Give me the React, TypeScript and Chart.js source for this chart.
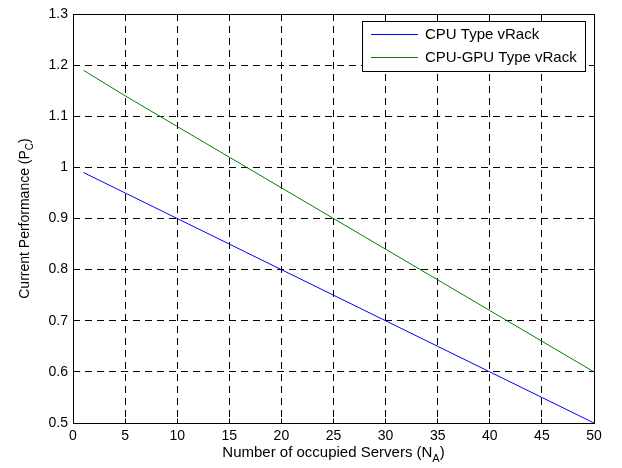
import React, { useEffect, useRef } from 'react';
import { Chart, registerables } from 'chart.js';

Chart.register(...registerables);

const servers = [1, 5, 10, 15, 20, 25, 30, 35, 40, 45, 50];
const cpuPerf = [0.99, 0.95, 0.9, 0.85, 0.8, 0.75, 0.7, 0.65, 0.6, 0.55, 0.5];
const gpuPerf = [1.19, 1.14, 1.08, 1.02, 0.96, 0.9, 0.84, 0.78, 0.72, 0.66, 0.6];
const seriesLabels = ['CPU Type vRack', 'CPU-GPU Type vRack'];
const seriesColors = ['#0000ff', '#008000'];
const xTickValues = [0, 5, 10, 15, 20, 25, 30, 35, 40, 45, 50];
const yTickValues = [0.5, 0.6, 0.7, 0.8, 0.9, 1.0, 1.1, 1.2, 1.3];
const xTitle = ['Number of occupied Servers (N', 'A', ')'];
const yTitle = ['Current Performance (P', 'C', ')'];

const FONT = '"Liberation Sans", Arial, Helvetica, sans-serif';
const TICK_SIZE = 14;
const X_TITLE_SIZE = 15;
const Y_TITLE_SIZE = 14;
const LEGEND_SIZE = 15;

const align = (p: number) => Math.round(p - 0.5) + 0.5;

function drawSubText(ctx: CanvasRenderingContext2D, parts: string[], cx: number, cy: number, size: number) {
  const mainFont = `${size}px ${FONT}`;
  const subFont = `${Math.round(size * 0.72)}px ${FONT}`;
  ctx.font = mainFont;
  const w0 = ctx.measureText(parts[0]).width;
  const w2 = ctx.measureText(parts[2]).width;
  ctx.font = subFont;
  const w1 = ctx.measureText(parts[1]).width;
  const total = w0 + w1 + w2;
  let x = cx - total / 2;
  ctx.textAlign = 'left';
  ctx.textBaseline = 'middle';
  ctx.fillStyle = '#000';
  ctx.font = mainFont;
  ctx.fillText(parts[0], x, cy);
  x += w0;
  ctx.font = subFont;
  ctx.fillText(parts[1], x, cy + size * 0.38);
  x += w1;
  ctx.font = mainFont;
  ctx.fillText(parts[2], x, cy);
}

const decorPlugin = {
  id: 'decor',
  afterDraw(chart: any) {
    const { ctx, chartArea: a, scales } = chart;
    const L = align(a.left), R = align(a.right), T = align(a.top), B = align(a.bottom);
    ctx.save();
    ctx.setLineDash([]);
    ctx.strokeStyle = '#000';
    ctx.lineWidth = 1;
    // inner ticks
    const tl = 5;
    ctx.beginPath();
    xTickValues.forEach((v) => {
      const px = align(scales.x.getPixelForValue(v));
      ctx.moveTo(px, B); ctx.lineTo(px, B - tl);
      ctx.moveTo(px, T); ctx.lineTo(px, T + tl);
    });
    yTickValues.forEach((v) => {
      const py = align(scales.y.getPixelForValue(v));
      ctx.moveTo(L, py); ctx.lineTo(L + tl, py);
      ctx.moveTo(R, py); ctx.lineTo(R - tl, py);
    });
    ctx.stroke();
    // box
    ctx.strokeRect(L, T, R - L, B - T);

    // legend
    ctx.font = `${LEGEND_SIZE}px ${FONT}`;
    const tw = Math.max(...seriesLabels.map((s) => ctx.measureText(s).width));
    const lx = 362.5, ly = 21.5;
    const lineX0 = 371, lineX1 = 418, textX = 425;
    const lw = Math.round(textX - lx + tw + 9);
    const lh = 50;
    ctx.fillStyle = '#fff';
    ctx.fillRect(lx, ly, lw, lh);
    ctx.strokeStyle = '#000';
    ctx.strokeRect(lx, ly, lw, lh);
    seriesLabels.forEach((s, i) => {
      const y = 34.5 + i * 23;
      ctx.strokeStyle = seriesColors[i];
      ctx.beginPath();
      ctx.moveTo(lineX0, y);
      ctx.lineTo(lineX1, y);
      ctx.stroke();
      ctx.fillStyle = '#000';
      ctx.textAlign = 'left';
      ctx.textBaseline = 'middle';
      ctx.fillText(s, textX, y);
    });

    // axis titles
    drawSubText(ctx, xTitle, (a.left + a.right) / 2, 453, X_TITLE_SIZE);
    ctx.save();
    ctx.translate(25, (a.top + a.bottom) / 2);
    ctx.rotate(-Math.PI / 2);
    drawSubText(ctx, yTitle, 0, 0, Y_TITLE_SIZE);
    ctx.restore();
    ctx.restore();
  },
};

export default function App() {
  const ref = useRef<HTMLCanvasElement>(null);
  useEffect(() => {
    document.body.style.margin = '0';
    if (!ref.current) return;
    Chart.defaults.font.family = FONT;
    const chart = new Chart(ref.current, {
      type: 'line',
      data: {
        datasets: [
          {
            label: seriesLabels[0],
            data: servers.map((x, i) => ({ x, y: cpuPerf[i] })),
            borderColor: seriesColors[0],
            borderWidth: 1,
            pointRadius: 0,
            tension: 0,
            fill: false,
          },
          {
            label: seriesLabels[1],
            data: servers.map((x, i) => ({ x, y: gpuPerf[i] })),
            borderColor: seriesColors[1],
            borderWidth: 1,
            pointRadius: 0,
            tension: 0,
            fill: false,
          },
        ],
      },
      options: {
        animation: false,
        responsive: false,
        events: [],
        layout: { padding: { left: 0, top: 14, right: 28, bottom: 0 } },
        plugins: { legend: { display: false }, tooltip: { enabled: false }, title: { display: false } },
        scales: {
          x: {
            type: 'linear',
            min: 0,
            max: 50,
            afterBuildTicks: (s: any) => { s.ticks = xTickValues.map((v) => ({ value: v })); },
            afterFit: (s: any) => { s.height = 45; },
            ticks: { color: '#000', font: { size: TICK_SIZE }, padding: 5, maxRotation: 0, autoSkip: false },
            grid: { color: '#000', lineWidth: 1, drawTicks: false, tickLength: 0 },
            border: { display: false, dash: [7, 5] },
          },
          y: {
            type: 'linear',
            min: 0.5,
            max: 1.3,
            afterBuildTicks: (s: any) => { s.ticks = yTickValues.map((v) => ({ value: v })); },
            afterFit: (s: any) => { s.width = 73; },
            ticks: {
              color: '#000',
              font: { size: TICK_SIZE },
              padding: 5,
              autoSkip: false,
              callback: (v: any) => String(Number(Number(v).toFixed(1))),
            },
            grid: { color: '#000', lineWidth: 1, drawTicks: false, tickLength: 0 },
            border: { display: false, dash: [7, 5] },
          },
        },
      },
      plugins: [decorPlugin],
    });
    return () => chart.destroy();
  }, []);
  return (
    <div style={{ position: 'absolute', left: 0, top: 0, width: 622, height: 468, background: '#fff' }}>
      <canvas ref={ref} width={622} height={468} style={{ display: 'block' }} />
    </div>
  );
}
